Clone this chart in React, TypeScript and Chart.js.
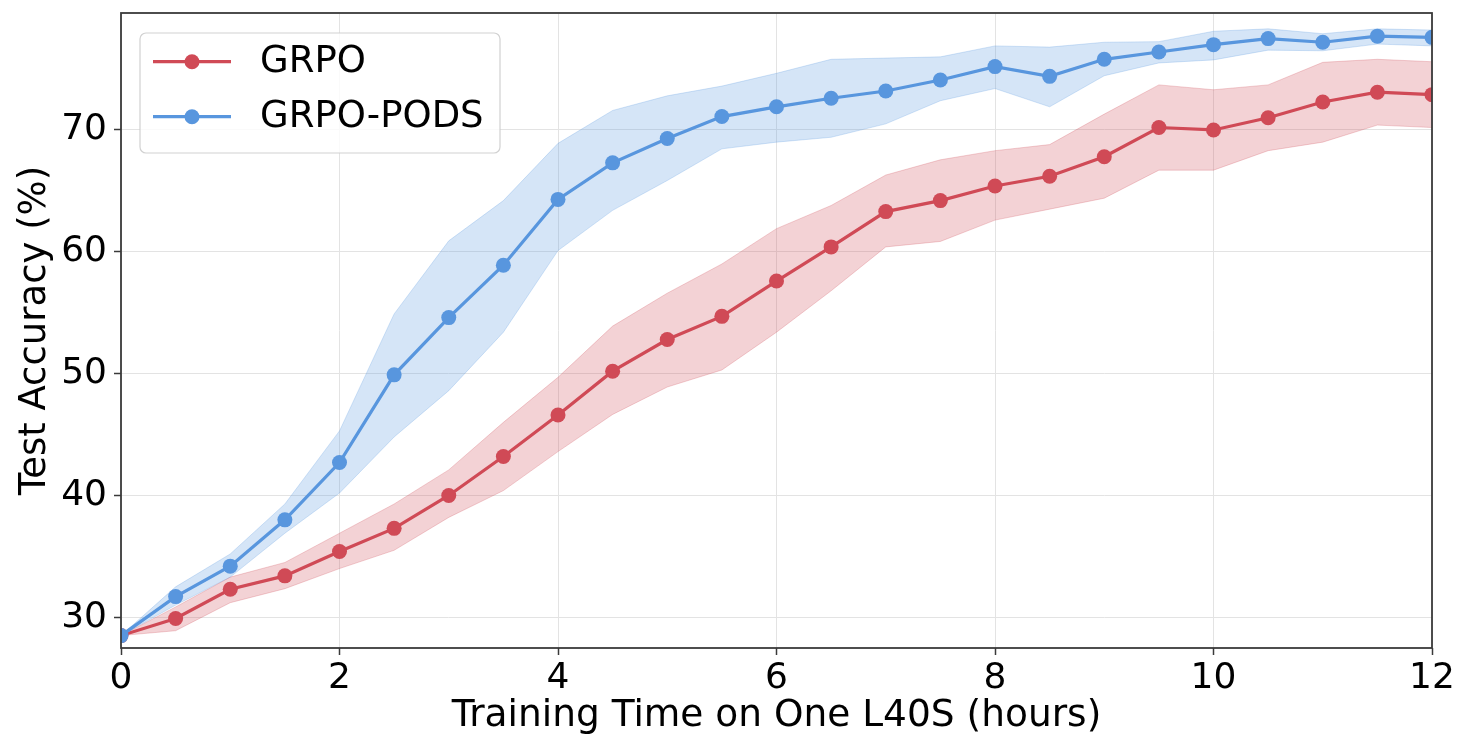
import { useEffect, useRef } from "react";
import { Chart, registerables } from "chart.js";

Chart.register(...registerables);

// Training time in hours at each evaluation checkpoint
const hours = [0, 0.5, 1, 1.5, 2, 2.5, 3, 3.5, 4, 4.5, 5, 5.5, 6, 6.5, 7, 7.5, 8, 8.5, 9, 9.5, 10, 10.5, 11, 11.5, 12];

// GRPO: mean test accuracy with its spread band
const grpoMean = [28.5, 29.9, 32.3, 33.4, 35.4, 37.3, 40.0, 43.2, 46.6, 50.2, 52.8, 54.7, 57.6, 60.4, 63.3, 64.2, 65.4, 66.2, 67.8, 70.2, 70.0, 71.0, 72.3, 73.1, 72.9];
const grpoUpper = [28.5, 30.85, 33.3, 34.5, 36.9, 39.3, 42.1, 46.0, 49.7, 53.9, 56.6, 59.0, 61.9, 63.8, 66.3, 67.55, 68.3, 68.8, 71.3, 73.7, 73.3, 73.7, 75.55, 75.8, 75.6];
const grpoLower = [28.5, 28.9, 31.2, 32.35, 34.0, 35.5, 38.2, 40.4, 43.6, 46.65, 48.9, 50.3, 53.4, 56.8, 60.4, 60.85, 62.6, 63.5, 64.4, 66.7, 66.7, 68.3, 69.0, 70.4, 70.2];

// GRPO-PODS: mean test accuracy with its spread band
const podsMean = [28.5, 31.7, 34.2, 38.0, 42.7, 49.9, 54.6, 58.9, 64.3, 67.3, 69.3, 71.1, 71.9, 72.6, 73.2, 74.1, 75.2, 74.4, 75.8, 76.4, 77.0, 77.5, 77.2, 77.7, 77.6];
const podsUpper = [28.5, 32.5, 35.2, 39.3, 45.3, 54.9, 60.9, 64.2, 68.9, 71.6, 72.8, 73.6, 74.65, 75.8, 75.9, 76.0, 76.9, 76.8, 77.2, 77.25, 78.1, 78.3, 77.9, 78.3, 78.2];
const podsLower = [28.5, 31.0, 33.3, 36.9, 40.2, 44.8, 48.6, 53.4, 60.1, 63.4, 65.85, 68.45, 69.0, 69.4, 70.5, 72.4, 73.4, 71.9, 74.45, 75.5, 75.75, 76.55, 76.5, 77.05, 76.9];

const xTicks = [0, 2, 4, 6, 8, 10, 12];
const yTicks = [30, 40, 50, 60, 70];

const seriesNames = ["GRPO", "GRPO-PODS"];
const RED = "rgb(208, 74, 86)";
const RED_BAND = "rgba(208, 74, 86, 0.25)";
const BLUE = "rgb(88, 150, 222)";
const BLUE_BAND = "rgba(88, 150, 222, 0.25)";

const FONT = "'DejaVu Sans', sans-serif";
const FRAME = "#3a3a3a";

const pts = (ys: number[]) => hours.map((x, i) => ({ x, y: ys[i] }));

const bandLine = (label: string, ys: number[], edge: string, fill: any, order: number) => ({
  label,
  data: pts(ys),
  borderColor: edge,
  borderWidth: 1,
  pointRadius: 0,
  backgroundColor: edge,
  fill,
  order,
  clip: 0,
  tension: 0,
});

const meanLine = (label: string, ys: number[], color: string, order: number) => ({
  label,
  data: pts(ys),
  borderColor: color,
  backgroundColor: color,
  borderWidth: 3.2,
  pointRadius: 7.5,
  pointBorderWidth: 0,
  pointBackgroundColor: color,
  fill: false,
  order,
  clip: 0,
  tension: 0,
});

// Frame around the plotting area plus the boxed legend in the upper-left corner
const framePlugin = {
  id: "frameAndLegend",
  afterDatasetsDraw(chart: any) {
    const { ctx, chartArea: a } = chart;
    ctx.save();
    ctx.strokeStyle = FRAME;
    ctx.lineWidth = 1.8;
    ctx.strokeRect(a.left, a.top, a.right - a.left, a.bottom - a.top);

    // legend box
    const bx = 140, by = 33, bw = 360, bh = 120, r = 6;
    ctx.beginPath();
    ctx.moveTo(bx + r, by);
    ctx.arcTo(bx + bw, by, bx + bw, by + bh, r);
    ctx.arcTo(bx + bw, by + bh, bx, by + bh, r);
    ctx.arcTo(bx, by + bh, bx, by, r);
    ctx.arcTo(bx, by, bx + bw, by, r);
    ctx.closePath();
    ctx.fillStyle = "rgba(255,255,255,0.8)";
    ctx.fill();
    ctx.strokeStyle = "rgba(204,204,204,0.9)";
    ctx.lineWidth = 1.2;
    ctx.stroke();

    const rows = [
      { name: seriesNames[0], color: RED, y: 61.7 },
      { name: seriesNames[1], color: BLUE, y: 116.7 },
    ];
    for (const row of rows) {
      ctx.strokeStyle = row.color;
      ctx.lineWidth = 3.2;
      ctx.beginPath();
      ctx.moveTo(153, row.y);
      ctx.lineTo(231, row.y);
      ctx.stroke();
      ctx.fillStyle = row.color;
      ctx.beginPath();
      ctx.arc(192, row.y, 7.5, 0, Math.PI * 2);
      ctx.fill();
      ctx.fillStyle = "#000";
      ctx.font = `37px ${FONT}`;
      ctx.textAlign = "left";
      ctx.textBaseline = "middle";
      ctx.fillText(row.name, 260, row.y + 1);
    }
    ctx.restore();
  },
};

export default function App() {
  const ref = useRef<HTMLCanvasElement>(null);

  useEffect(() => {
    if (!ref.current) return;
    const chart = new Chart(ref.current, {
      type: "line",
      data: {
        datasets: [
          bandLine("GRPO lower", grpoLower, RED_BAND, false, 3),
          bandLine("GRPO upper", grpoUpper, RED_BAND, "-1", 3),
          meanLine(seriesNames[0], grpoMean, RED, 2),
          bandLine("GRPO-PODS lower", podsLower, BLUE_BAND, false, 1),
          bandLine("GRPO-PODS upper", podsUpper, BLUE_BAND, "-1", 1),
          meanLine(seriesNames[1], podsMean, BLUE, 0),
        ] as any,
      },
      plugins: [framePlugin],
      options: {
        responsive: false,
        animation: false,
        layout: { padding: { top: 13, right: 25, left: 0, bottom: 0 } },
        plugins: {
          legend: { display: false },
          tooltip: { enabled: false },
        },
        scales: {
          x: {
            type: "linear",
            min: 0,
            max: 12,
            afterBuildTicks: (s: any) => {
              s.ticks = xTicks.map((v) => ({ value: v }));
            },
            afterFit: (s: any) => {
              s.height = 91;
              s.paddingLeft = 0;
              s.paddingRight = 0;
            },
            grid: {
              color: "#e3e3e3",
              lineWidth: 1,
              tickColor: FRAME,
              tickLength: 7,
              tickWidth: 1.5,
            },
            border: { display: false },
            ticks: {
              color: "#000",
              font: { family: FONT, size: 36 },
              padding: 2,
              maxRotation: 0,
              callback: (v: any) => String(v),
            },
            title: {
              display: true,
              text: "Training Time on One L40S (hours)",
              color: "#000",
              font: { family: FONT, size: 37.5 },
              padding: { top: 0, bottom: 0 },
            },
          },
          y: {
            type: "linear",
            min: 27.48,
            max: 79.6,
            afterBuildTicks: (s: any) => {
              s.ticks = yTicks.map((v) => ({ value: v }));
            },
            afterFit: (s: any) => {
              s.width = 121;
              s.paddingTop = 0;
              s.paddingBottom = 0;
            },
            grid: {
              color: "#e3e3e3",
              lineWidth: 1,
              tickColor: FRAME,
              tickLength: 7,
              tickWidth: 1.5,
            },
            border: { display: false },
            ticks: {
              color: "#000",
              font: { family: FONT, size: 36 },
              padding: 7,
              callback: (v: any) => String(v),
            },
            title: {
              display: true,
              text: "Test Accuracy (%)",
              color: "#000",
              font: { family: FONT, size: 37 },
              padding: { top: 13, bottom: 0 },
            },
          },
        },
      },
    });
    return () => chart.destroy();
  }, []);

  return (
    <div style={{ position: "fixed", left: 0, top: 0, width: 1457, height: 739, background: "#fff" }}>
      <canvas ref={ref} width={1457} height={739} />
    </div>
  );
}
